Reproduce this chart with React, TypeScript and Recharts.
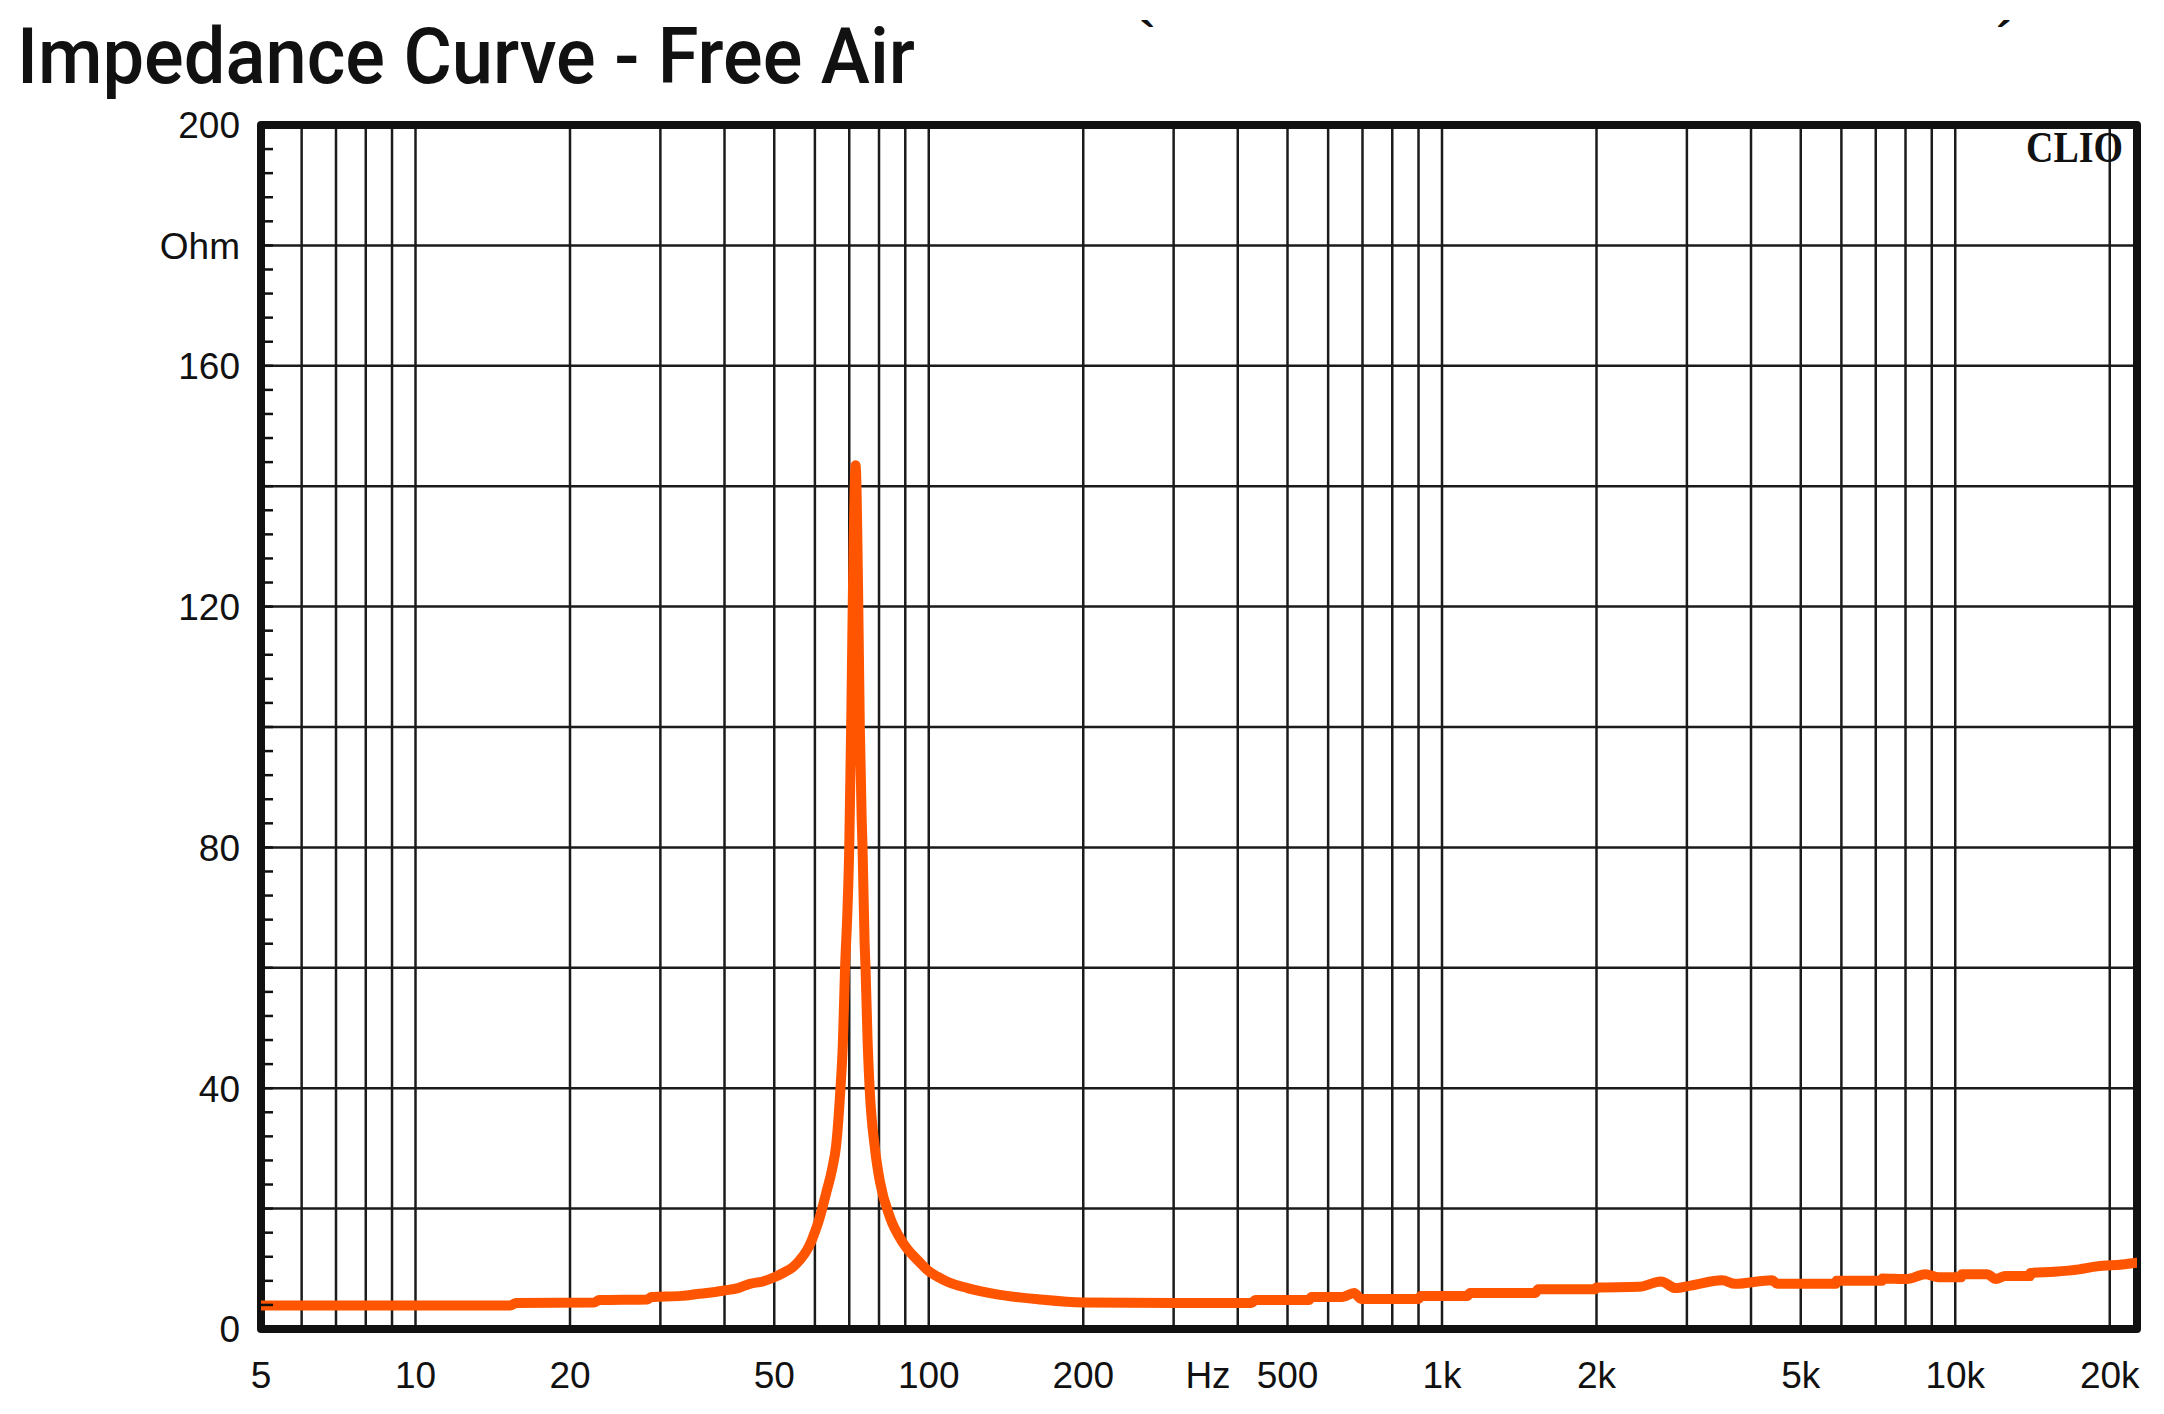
import { LineChart, Line, XAxis, YAxis, CartesianGrid, ReferenceArea } from 'recharts';

// impedance readings (Hz / Ohm)
const FREQ = [
  5, 15.3, 15.7, 22.3, 22.8, 28.3, 28.8, 33, 35.4, 38, 40, 42.5, 44.8, 47.5, 50, 52, 54.4, 56,
  57.9, 59, 60, 61, 61.9, 63.3, 64.8, 66, 67.3, 68, 68.7, 69.4, 70, 70.6, 70.9, 71.1, 71.4, 71.7,
  72, 72.35, 72.6, 72.9, 73.1, 73.4, 74, 74.3, 75, 75.3, 76, 76.7, 78.6, 80.4, 84, 89.1, 96.2,
  100, 104, 109, 119, 135, 165, 200, 300, 338, 425, 433, 550, 557, 640, 674, 696, 900, 910,
  1120, 1134, 1520, 1539, 1990, 2000, 2421, 2671, 2851, 3050, 3515, 3726, 4396, 4500, 5850,
  5870, 7200, 7210, 8052, 8747, 9270, 10270, 10290, 11540, 12000, 12510, 13990, 14010, 15590,
  17430, 18900, 21140, 22600,
];
const OHM = [
  3.9, 3.9, 4.3, 4.4, 4.8, 4.9, 5.3, 5.5, 5.8, 6.1, 6.4, 6.8, 7.5, 7.9, 8.6, 9.3, 10.3, 11.4,
  13.1, 14.5, 16.1, 17.9, 19.8, 23, 26.5, 30.5, 40, 47, 60, 69, 80, 100, 112, 120, 131, 139,
  143.5, 139, 131, 120, 112, 100, 85, 80, 64, 60, 48, 40, 29.8, 24.3, 18.6, 14.3, 11.0,
  9.6, 8.7, 7.8, 6.8, 5.8, 4.9, 4.4, 4.3, 4.3, 4.3, 4.8, 4.8, 5.3, 5.3, 6.0, 5.0, 5.0, 5.5,
  5.5, 6.0, 6.0, 6.6, 6.6, 6.9, 7.0, 7.9, 6.8, 7.2, 8.1, 7.5, 8.1, 7.5, 7.5,
  8.0, 8.0, 8.4, 8.3, 9.1, 8.6, 8.6, 9.1, 9.1, 8.3, 8.8, 8.8, 9.3, 9.5,
  9.9, 10.4, 10.7, 11.0,
];

const X_DOMAIN = [5, 22600];
const Y_DOMAIN = [0, 200];
const X_LABELS = [5, 10, 20, 50, 100, 200, 350, 500, 1000, 2000, 5000, 10000, 20000];
const X_GRID = [
  6, 7, 8, 9, 10, 20, 30, 40, 50, 60, 70, 80, 90, 100, 200, 300, 400, 500, 600, 700, 800, 900,
  1000, 2000, 3000, 4000, 5000, 6000, 7000, 8000, 9000, 10000, 20000,
];
const Y_LABELS = [0, 40, 80, 120, 160, 180, 200];
const Y_GRID = [20, 40, 60, 80, 100, 120, 140, 160, 180];
const Y_MINOR = Array.from({ length: 51 }, (_, i) => i * 4);

const data = FREQ.map((f, i) => ({ f, z: OHM[i] }));

const INK = '#111';
const FONT = '"Liberation Sans", Arial, sans-serif';
const labelFont = { fill: INK, fontSize: 37, fontFamily: FONT };
const LEFT_MARGIN = 21;

const fmtX = (v: number) => (v === 350 ? 'Hz' : v >= 1000 ? `${v / 1000}k` : `${v}`);
const fmtY = (v: number) => (v === 180 ? 'Ohm' : `${v}`);

// left axis: inward minor tick every 4 Ohm, label only on Y_LABELS
const LeftTick = (props: any) => {
  const { x, y, payload } = props;
  const v = payload.value;
  const ax = x + LEFT_MARGIN;
  return (
    <g>
      <line x1={ax} x2={ax + 12} y1={y} y2={y} stroke={INK} strokeWidth={2.5} />
      {Y_LABELS.includes(v) && (
        <text x={x} y={y} dy="0.36em" textAnchor="end" fill={INK} fontSize={37} fontFamily={FONT}>
          {fmtY(v)}
        </text>
      )}
    </g>
  );
};

const RightTick = (props: any) => {
  const { x, y } = props;
  return <line x1={x - 11} x2={x} y1={y} y2={y} stroke={INK} strokeWidth={2.5} />;
};

export default function App() {
  return (
    <div style={{ position: 'relative', width: 2164, height: 1414, background: '#fff' }}>
      <style>{'body{margin:0}'}</style>
      <LineChart width={2164} height={1414} data={data} margin={{ top: 125, right: 26, left: 0, bottom: 0 }}>
        <CartesianGrid
          xAxisId="b"
          yAxisId="L"
          stroke="#1b1b1b"
          strokeWidth={2.5}
          verticalValues={X_GRID}
          horizontalValues={Y_GRID}
        />
        <XAxis
          xAxisId="b"
          dataKey="f"
          type="number"
          scale="log"
          domain={X_DOMAIN}
          allowDataOverflow
          ticks={X_LABELS}
          interval={0}
          tickFormatter={fmtX}
          height={85}
          tickSize={0}
          tickMargin={33}
          tickLine={false}
          axisLine={false}
          tick={labelFont}
        />
        <YAxis
          yAxisId="L"
          domain={Y_DOMAIN}
          ticks={Y_MINOR}
          interval={0}
          width={261}
          tickSize={0}
          tickMargin={LEFT_MARGIN}
          tickLine={false}
          axisLine={false}
          tick={LeftTick}
        />
        <YAxis
          yAxisId="R"
          orientation="right"
          domain={Y_DOMAIN}
          ticks={Y_MINOR}
          interval={0}
          width={1}
          tickSize={0}
          tickMargin={0}
          tickLine={false}
          axisLine={false}
          tick={RightTick}
        />
        <ReferenceArea
          xAxisId="b"
          yAxisId="L"
          x1={X_DOMAIN[0]}
          x2={X_DOMAIN[1]}
          y1={Y_DOMAIN[0]}
          y2={Y_DOMAIN[1]}
          fill="none"
          fillOpacity={0}
          stroke={INK}
          strokeWidth={8}
          strokeLinejoin="round"
          ifOverflow="visible"
        />
        <Line
          xAxisId="b"
          yAxisId="L"
          type="monotoneX"
          dataKey="z"
          stroke="#ff5500"
          strokeWidth={10}
          strokeLinejoin="round"
          strokeLinecap="round"
          dot={false}
          activeDot={false}
          isAnimationActive={false}
        />
      </LineChart>
      <svg
        width={2164}
        height={1414}
        style={{ position: 'absolute', left: 0, top: 0, pointerEvents: 'none' }}
      >
        <text
          x={17}
          y={83}
          fontSize={77}
          fontWeight={500}
          fontFamily="Roboto, 'Noto Sans', sans-serif"
          fill={INK}
          textLength={898}
          lengthAdjust="spacingAndGlyphs"
        >
          Impedance Curve - Free Air
        </text>
        <text x={1140} y={54} fontSize={46} fontWeight={700} fontFamily={FONT} fill={INK}>
          `
        </text>
        <text x={1996} y={54} fontSize={46} fontWeight={700} fontFamily={FONT} fill={INK}>
          ´
        </text>
        <text
          x={2026}
          y={162}
          fontSize={45}
          fontWeight={700}
          fontFamily="'Liberation Serif', 'Times New Roman', serif"
          fill={INK}
          textLength={97}
          lengthAdjust="spacingAndGlyphs"
        >
          CLIO
        </text>
      </svg>
    </div>
  );
}
